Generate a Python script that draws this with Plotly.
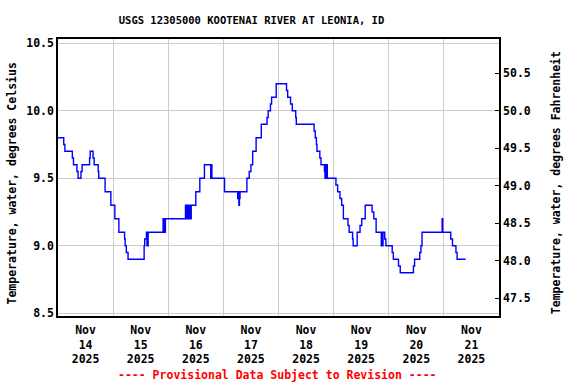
import plotly.graph_objects as go

# Step change points (time, water temperature degC)
times = [
    "2025-11-14 00:00", "2025-11-14 02:30", "2025-11-14 03:00", "2025-11-14 06:15", "2025-11-14 06:45",
    "2025-11-14 08:15", "2025-11-14 08:45", "2025-11-14 10:00", "2025-11-14 10:30", "2025-11-14 13:45",
    "2025-11-14 14:00", "2025-11-14 15:15", "2025-11-14 15:45", "2025-11-14 17:30", "2025-11-14 17:45",
    "2025-11-14 20:30", "2025-11-14 23:00", "2025-11-15 00:45", "2025-11-15 02:30", "2025-11-15 05:00",
    "2025-11-15 05:15", "2025-11-15 05:45", "2025-11-15 06:30", "2025-11-15 13:30", "2025-11-15 13:45",
    "2025-11-15 14:30", "2025-11-15 14:45", "2025-11-15 15:15", "2025-11-15 21:45", "2025-11-15 22:00",
    "2025-11-15 22:15", "2025-11-15 22:30", "2025-11-15 22:45",
    "2025-11-16 07:30", "2025-11-16 07:45", "2025-11-16 08:15", "2025-11-16 08:30", "2025-11-16 09:00",
    "2025-11-16 09:15", "2025-11-16 09:30", "2025-11-16 09:45", "2025-11-16 10:00", "2025-11-16 12:00",
    "2025-11-16 13:45", "2025-11-16 15:45", "2025-11-16 18:30", "2025-11-16 18:45", "2025-11-16 19:00",
    "2025-11-17 00:30", "2025-11-17 06:15", "2025-11-17 06:30", "2025-11-17 06:45", "2025-11-17 07:00",
    "2025-11-17 07:15", "2025-11-17 10:15", "2025-11-17 11:15", "2025-11-17 12:00", "2025-11-17 12:45",
    "2025-11-17 14:15", "2025-11-17 16:30", "2025-11-17 19:00", "2025-11-17 19:30", "2025-11-17 20:30",
    "2025-11-17 21:00", "2025-11-17 23:00",
    "2025-11-18 03:30", "2025-11-18 04:00", "2025-11-18 05:15", "2025-11-18 06:00", "2025-11-18 07:30",
    "2025-11-18 07:45", "2025-11-18 15:30", "2025-11-18 16:00", "2025-11-18 16:30", "2025-11-18 16:45",
    "2025-11-18 18:00", "2025-11-18 18:30", "2025-11-18 20:00", "2025-11-18 20:15", "2025-11-18 20:30",
    "2025-11-18 20:45", "2025-11-18 21:00", "2025-11-18 21:15",
    "2025-11-19 01:00", "2025-11-19 01:45", "2025-11-19 02:45", "2025-11-19 03:30", "2025-11-19 04:15",
    "2025-11-19 06:15", "2025-11-19 06:45", "2025-11-19 08:15", "2025-11-19 08:30", "2025-11-19 10:15",
    "2025-11-19 11:30", "2025-11-19 12:15", "2025-11-19 13:45", "2025-11-19 16:45", "2025-11-19 17:30",
    "2025-11-19 18:30", "2025-11-19 20:45", "2025-11-19 21:00", "2025-11-19 21:15", "2025-11-19 21:30",
    "2025-11-19 22:15", "2025-11-19 22:45",
    "2025-11-20 01:30", "2025-11-20 02:00", "2025-11-20 04:15", "2025-11-20 05:00", "2025-11-20 10:45",
    "2025-11-20 11:15", "2025-11-20 13:30", "2025-11-20 14:00", "2025-11-20 14:30", "2025-11-20 23:15",
    "2025-11-20 23:30",
    "2025-11-21 03:00", "2025-11-21 03:45", "2025-11-21 05:15", "2025-11-21 05:45", "2025-11-21 09:30",
]
temps_c = [
    9.8, 9.75, 9.7, 9.65, 9.6,
    9.55, 9.5, 9.55, 9.6, 9.65,
    9.7, 9.65, 9.6, 9.55, 9.5,
    9.4, 9.3, 9.2, 9.1, 9.05,
    9.0, 8.95, 8.9, 9.0, 9.05,
    9.1, 9.0, 9.1, 9.2, 9.1,
    9.2, 9.1, 9.2,
    9.3, 9.2, 9.3, 9.2, 9.3,
    9.2, 9.3, 9.2, 9.3, 9.4,
    9.5, 9.6, 9.5, 9.6, 9.5,
    9.4, 9.35, 9.4, 9.3, 9.35,
    9.4, 9.5, 9.55, 9.6, 9.7,
    9.8, 9.9, 9.95, 10.0, 10.05,
    10.1, 10.2,
    10.15, 10.1, 10.05, 10.0, 9.95,
    9.9, 9.85, 9.8, 9.75, 9.7,
    9.65, 9.6, 9.55, 9.5, 9.6,
    9.5, 9.6, 9.5,
    9.45, 9.4, 9.35, 9.3, 9.2,
    9.15, 9.1, 9.05, 9.0, 9.1,
    9.15, 9.2, 9.3, 9.25, 9.2,
    9.1, 9.0, 9.1, 9.0, 9.1,
    9.05, 9.0,
    8.95, 8.9, 8.85, 8.8, 8.85,
    8.9, 8.95, 9.0, 9.1, 9.2,
    9.1,
    9.05, 9.0, 8.95, 8.9, 8.9,
]

day_labels = ["Nov<br>14<br>2025", "Nov<br>15<br>2025", "Nov<br>16<br>2025", "Nov<br>17<br>2025",
              "Nov<br>18<br>2025", "Nov<br>19<br>2025", "Nov<br>20<br>2025", "Nov<br>21<br>2025"]
label_pos = ["2025-11-%02d 12:00" % d for d in range(14, 22)]
midnights = ["2025-11-%02d 00:00" % d for d in range(15, 22)]
c_ticks = [8.5, 9.0, 9.5, 10.0, 10.5]
f_ticks = [47.5, 48.0, 48.5, 49.0, 49.5, 50.0, 50.5]

c_range = [8.48, 10.532]
f_range = [c * 1.8 + 32 for c in c_range]

FONT = "DejaVu Sans Mono"

fig = go.Figure()
fig.add_trace(go.Scatter(x=times, y=temps_c, mode="lines", line_shape="hv",
                         line=dict(color="#0000FF", width=1.4), showlegend=False))
# invisible trace to activate the Fahrenheit axis
fig.add_trace(go.Scatter(x=[times[0]], y=[temps_c[0] * 1.8 + 32], yaxis="y2", mode="markers",
                         marker=dict(opacity=0), showlegend=False, hoverinfo="skip"))

fig.update_layout(
    width=576, height=384,
    margin=dict(l=58, r=77, t=39, b=68),
    paper_bgcolor="white", plot_bgcolor="white",
    font=dict(family=FONT, size=11.5, color="black", weight="bold"),
    title=dict(text="USGS 12305000 KOOTENAI RIVER AT LEONIA, ID", x=251.5 / 576, xref="container",
               xanchor="center", y=1 - 20 / 384, yanchor="middle", yref="container",
               font=dict(family=FONT, size=10.5, color="black", weight="bold")),
    xaxis=dict(
        type="date", range=["2025-11-14 00:00", "2025-11-22 00:00"],
        tickmode="array", tickvals=label_pos, ticktext=day_labels, ticks="", showgrid=False,
        showline=True, linecolor="black", linewidth=1.5, mirror=True, ticklabelstandoff=2,
        minor=dict(tickmode="array", tickvals=midnights, showgrid=True, gridcolor="#cccccc",
                   gridwidth=1, ticks=""),
        zeroline=False,
    ),
    yaxis=dict(
        range=c_range, tickmode="array", tickvals=c_ticks, tickformat=".1f", ticks="",
        showgrid=True, gridcolor="#cccccc", gridwidth=1,
        showline=True, linecolor="black", linewidth=1.5, zeroline=False,
    ),
    yaxis2=dict(
        range=f_range, overlaying="y", side="right", tickmode="array", tickvals=f_ticks,
        tickformat=".1f", ticks="inside", ticklen=4, tickcolor="black", showgrid=False,
        showline=True, linecolor="black", linewidth=1.5, zeroline=False,
    ),
    annotations=[
        dict(text="Temperature, water, degrees Celsius", textangle=-90, xref="paper", yref="paper",
             x=(11 - 58) / 441, y=(316 - 183.5) / 277, showarrow=False, xanchor="center",
             yanchor="middle", font=dict(family=FONT, size=11.5, color="black", weight="bold")),
        dict(text="Temperature, water, degrees Fahrenheit", textangle=-90, xref="paper", yref="paper",
             x=(555.7 - 58) / 441, y=(316 - 182.5) / 277, showarrow=False, xanchor="center",
             yanchor="middle", font=dict(family=FONT, size=11.5, color="black", weight="bold")),
        dict(text="---- Provisional Data Subject to Revision ----", xref="paper", yref="paper",
             x=(277 - 58) / 441, y=(316 - 375) / 277, showarrow=False, xanchor="center",
             yanchor="middle", font=dict(family=FONT, size=11.5, color="#FF0000", weight="bold")),
    ],
)

fig.write_html("out.html", config={"displayModeBar": False},
               post_script="document.body.style.margin='0';document.body.style.overflow='hidden';")
